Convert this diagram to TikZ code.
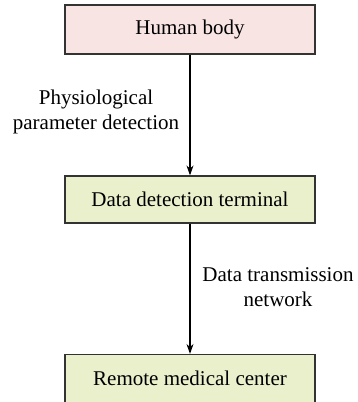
\documentclass[tikz,border=0pt]{standalone}
\usepackage{fontspec}
\setmainfont{Liberation Serif}
\usetikzlibrary{arrows.meta}
\definecolor{pinkfill}{HTML}{F7E4E3}
\definecolor{greenfill}{HTML}{EAF0CC}
\definecolor{edge}{HTML}{333333}
\begin{document}
\begin{tikzpicture}[x=1pt,y=-1pt,
  box/.style={draw=edge, line width=1.2pt, minimum width=250pt, minimum height=48pt, inner sep=0pt, font=\fontsize{21}{25}\selectfont},
  lbl/.style={align=center, font=\fontsize{21}{25}\selectfont, inner sep=0pt},
  conn/.style={draw=black, line width=1.2pt, -{Stealth[length=10pt,width=7pt]}}]
\useasboundingbox (0,0) rectangle (357,402);
\node[box, fill=pinkfill, minimum height=49pt] (hb) at (190,29.5) {Human body};
\node[box, fill=greenfill, minimum height=47pt] (dt) at (190,199.5) {Data detection terminal};
\node[box, fill=greenfill] (rm) at (190,378.5) {Remote medical center};
\draw[conn] (hb.south) -- (dt.north);
\draw[conn] (dt.south) -- (rm.north);
\node[lbl] (l1) at (96,112) {Physiological\\parameter detection};
\node[lbl] (l2) at (278,287) {Data transmission\\network};
\end{tikzpicture}
\end{document}
